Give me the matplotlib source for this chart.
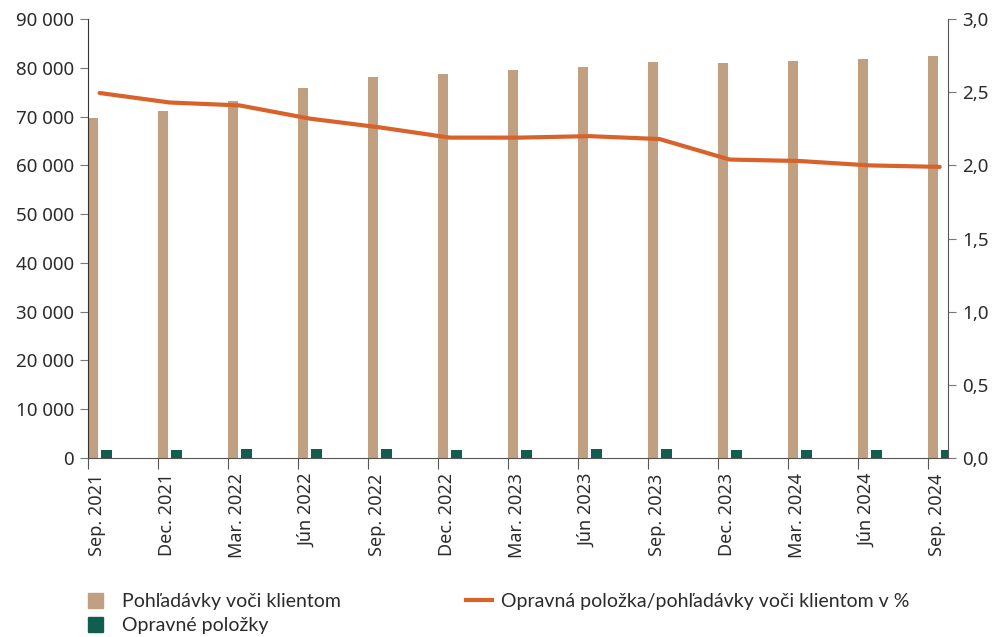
import matplotlib
matplotlib.use("Agg")
import matplotlib.pyplot as plt
import numpy as np
from matplotlib.patches import Patch
from matplotlib.lines import Line2D

plt.rcParams['font.family'] = ['Noto Sans', 'DejaVu Sans']

# Dati
obdobia = ['Sep. 2021', 'Dec. 2021', 'Mar. 2022', 'Jún 2022', 'Sep. 2022', 'Dec. 2022',
           'Mar. 2023', 'Jún 2023', 'Sep. 2023', 'Dec. 2023', 'Mar. 2024', 'Jún 2024', 'Sep. 2024']
pohladavky = [69700, 71100, 73200, 75800, 78100, 78700, 79500, 80200, 81200, 81000, 81400, 81800, 82400]
opravne = [1740, 1730, 1760, 1760, 1770, 1730, 1740, 1760, 1760, 1650, 1650, 1630, 1630]
podiel = [2.495, 2.43, 2.41, 2.32, 2.26, 2.19, 2.19, 2.20, 2.18, 2.04, 2.03, 2.00, 1.99]

c_tan = '#C0A080'
c_green = '#115E4E'
c_line = '#D9622B'
c_text = '#2b2b2b'

fig = plt.figure(figsize=(9.97, 6.37), dpi=100)
ax = fig.add_axes([0.0883, 0.281, 0.8627, 0.689])
ax2 = ax.twinx()

x = np.arange(len(obdobia))
w = 0.145
ax.bar(x, pohladavky, width=w, align='edge', color=c_tan, zorder=2)
ax.bar(x + 0.185, opravne, width=w + 0.01, align='edge', color=c_green, zorder=2)
ax2.plot(x + 0.165, podiel, color=c_line, linewidth=3, solid_capstyle='round', zorder=3)

ax.set_xlim(0, 12.286)
ax.set_ylim(0, 90000)
ax2.set_ylim(0, 3.0)
ax.set_yticks(np.arange(0, 90001, 10000))
ax.set_yticklabels([f'{v:,}'.replace(',', ' ') for v in range(0, 90001, 10000)])
ax2.set_yticks(np.arange(0, 3.01, 0.5))
ax2.set_yticklabels([f'{v:.1f}'.replace('.', ',') for v in np.arange(0, 3.01, 0.5)])
ax.set_xticks(x)
ax.set_xticklabels(obdobia, rotation=90, ha='left')

for a in (ax, ax2):
    a.spines['top'].set_visible(False)
ax.spines['right'].set_visible(False)
ax.spines['left'].set_color('#333333')
ax.spines['bottom'].set_color('#555555')
ax2.spines['left'].set_visible(False)
ax2.spines['bottom'].set_visible(False)
ax2.spines['right'].set_color('#555555')

ax.tick_params(axis='y', labelsize=13.5, colors='#777777', labelcolor=c_text, length=6, pad=4)
ax.tick_params(axis='x', labelsize=13, colors='#555555', labelcolor=c_text, length=8, pad=3)
ax2.tick_params(axis='y', labelsize=13.5, colors='#777777', labelcolor=c_text, length=6, pad=4)

# Legenda
leg_font = {'family': ['Lato', 'DejaVu Sans'], 'size': 14}
leg1 = fig.legend([Patch(color=c_tan), Patch(color=c_green)],
                  ['Pohľadávky voči klientom', 'Opravné položky'],
                  loc='upper left', bbox_to_anchor=(0.0883, 0.069), frameon=False,
                  prop=leg_font, handlelength=0.77, handleheight=0.77, handletextpad=1.0,
                  labelspacing=0.36, borderpad=0, borderaxespad=0, labelcolor=c_text)
leg2 = fig.legend([Line2D([0], [0], color=c_line, linewidth=3)],
                  ['Opravná položka/pohľadávky voči klientom v %'],
                  loc='upper left', bbox_to_anchor=(0.467, 0.069), frameon=False,
                  prop=leg_font, handlelength=1.34, handletextpad=0.46,
                  borderpad=0, borderaxespad=0, labelcolor=c_text)

fig.savefig('out.png', dpi=100)
